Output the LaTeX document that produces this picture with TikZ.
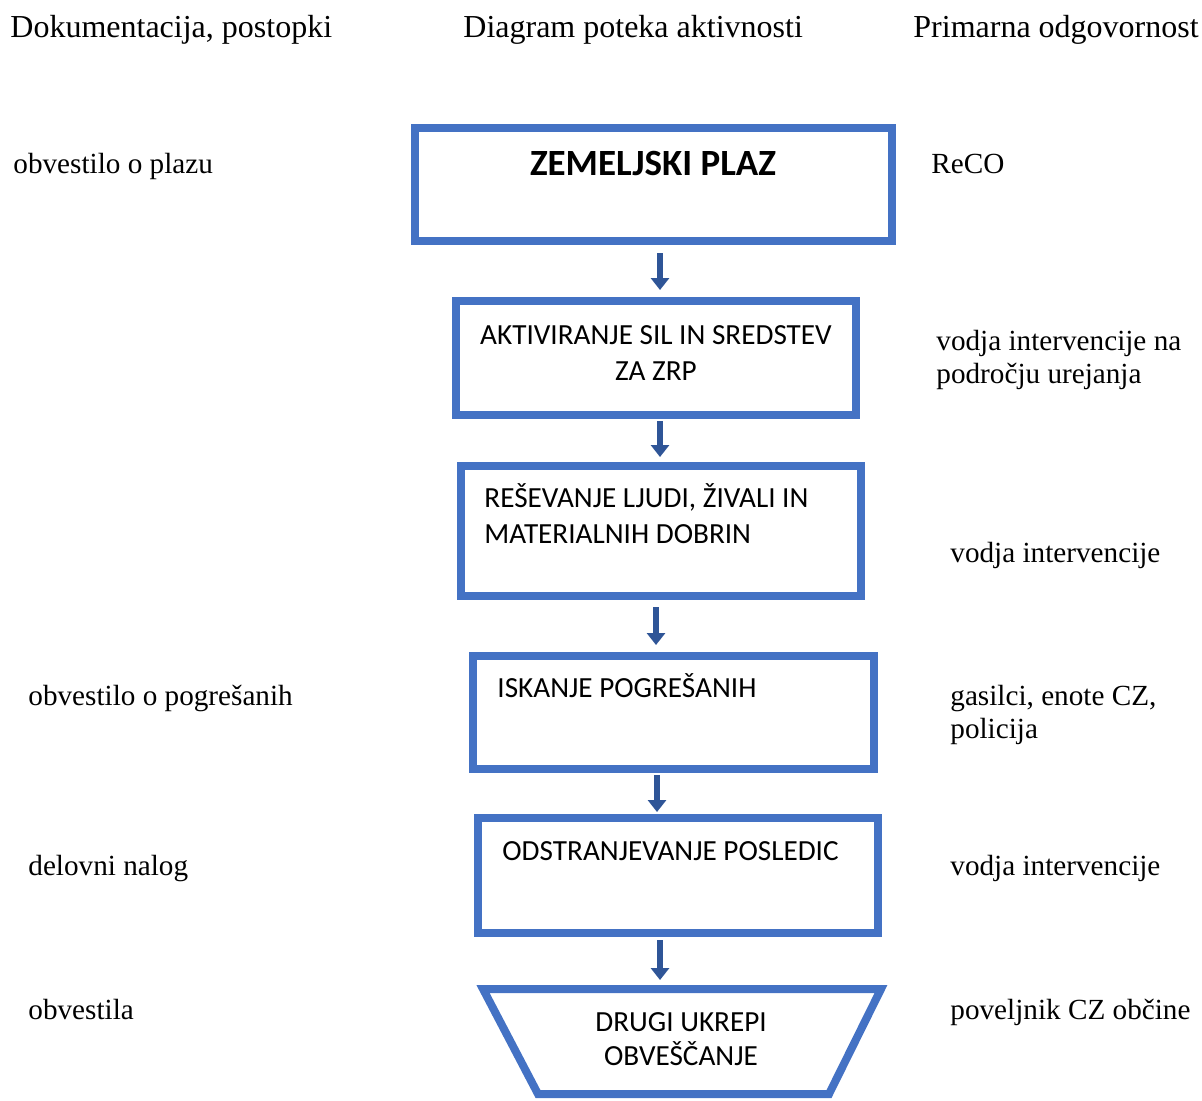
\documentclass[tikz,border=0pt]{standalone}
\usepackage{fontspec}
\setmainfont{Liberation Serif}
\newfontfamily\boxfont{Carlito}
\usetikzlibrary{arrows.meta}

\definecolor{boxblue}{RGB}{68,114,196}
\definecolor{arrowblue}{RGB}{47,85,151}

\tikzset{
  stepbox/.style={draw=boxblue, line width=4pt, inner sep=0pt, outer sep=0pt},
  boxtext/.style={font=\boxfont\fontsize{14.6}{18}\selectfont, inner sep=0pt},
  sidetext/.style={font=\fontsize{14.6}{16.5}\selectfont, inner sep=0pt, anchor=base west, align=left},
  headtext/.style={font=\fontsize{16}{19}\selectfont, inner sep=0pt, anchor=base west},
  flowarrow/.style={arrowblue, line width=3pt, -{Triangle[width=9pt,length=6pt]}}
}

\begin{document}
\begin{tikzpicture}[x=0.5pt,y=-0.5pt]
	\useasboundingbox (0,0) rectangle (1202,1100);

	% column headers
	\node[headtext] (h1) at (10,37) {Dokumentacija, postopki};
	\node[headtext] (h2) at (463,37) {Diagram poteka aktivnosti};
	\node[headtext] (h3) at (913,37) {Primarna odgovornost};

	% flow boxes
	\node[stepbox, minimum width=238.5pt, minimum height=56.5pt] (b1) at (653.5,184.5) {};
	\node[boxtext, font=\boxfont\bfseries\fontsize{18.5}{22}\selectfont, anchor=base] (t1) at (653,175) {ZEMELJSKI PLAZ};

	\node[stepbox, minimum width=200pt, minimum height=57pt] (b2) at (656,358) {};
	\node[boxtext, anchor=base, align=center] (t2) at (656,380.5) {AKTIVIRANJE SIL IN SREDSTEV\\ZA ZRP};

	\node[stepbox, minimum width=200pt, minimum height=65pt] (b3) at (661,531) {};
	\node[boxtext, anchor=base west, align=left] (t3) at (484,543) {REŠEVANJE LJUDI, ŽIVALI IN\\MATERIALNIH DOBRIN};

	\node[stepbox, minimum width=200.5pt, minimum height=56.5pt] (b4) at (673.5,712.5) {};
	\node[boxtext, anchor=base west] (t4) at (497,697) {ISKANJE POGREŠANIH};

	\node[stepbox, minimum width=200pt, minimum height=57.5pt] (b5) at (678,875.5) {};
	\node[boxtext, anchor=base west] (t5) at (502,860) {ODSTRANJEVANJE POSLEDIC};

	% last step, wide side up
	\draw[stepbox, line join=miter] (483,989) -- (881,989) -- (829,1094) -- (538,1094) -- cycle;
	\coordinate (b6) at (682,989);
	\node[boxtext, font=\boxfont\fontsize{14.6}{17}\selectfont, anchor=base, align=center] (t6) at (681,1065) {DRUGI UKREPI\\OBVEŠČANJE};

	% arrows between the boxes
	\coordinate (a1) at ([xshift=3.25pt]b1.south);
	\coordinate (a2) at ([xshift=2pt]b2.south);
	\coordinate (a3) at ([xshift=-2.5pt]b3.south);
	\coordinate (a4) at ([xshift=-8.25pt]b4.south);
	\coordinate (a5) at ([xshift=-9pt]b5.south);
	\draw[flowarrow, shorten <=6pt, shorten >=5.5pt] (a1) -- (a1 |- b2.north);
	\draw[flowarrow, shorten <=3pt, shorten >=4.5pt] (a2) -- (a2 |- b3.north);
	\draw[flowarrow, shorten <=5.5pt, shorten >=5.5pt] (a3) -- (a3 |- b4.north);
	\draw[flowarrow, shorten <=3pt, shorten >=3pt] (a4) -- (a4 |- b5.north);
	\draw[flowarrow, shorten <=3.5pt, shorten >=4.5pt] (a5) -- (a5 |- b6);

	% documents
	\node[sidetext] (d1) at (13,173) {obvestilo o plazu};
	\node[sidetext] (d2) at (28,705) {obvestilo o pogrešanih};
	\node[sidetext] (d3) at (28,875) {delovni nalog};
	\node[sidetext] (d4) at (28,1019) {obvestila};

	% responsibility
	\node[sidetext] (r1) at (931,173) {ReCO};
	\node[sidetext] (r2) at (936,383) {vodja intervencije na\\področju urejanja};
	\node[sidetext] (r3) at (950,562) {vodja intervencije};
	\node[sidetext] (r4) at (950,738) {gasilci, enote CZ,\\policija};
	\node[sidetext] (r5) at (950,875) {vodja intervencije};
	\node[sidetext] (r6) at (950,1019) {poveljnik CZ občine};
\end{tikzpicture}
\end{document}
